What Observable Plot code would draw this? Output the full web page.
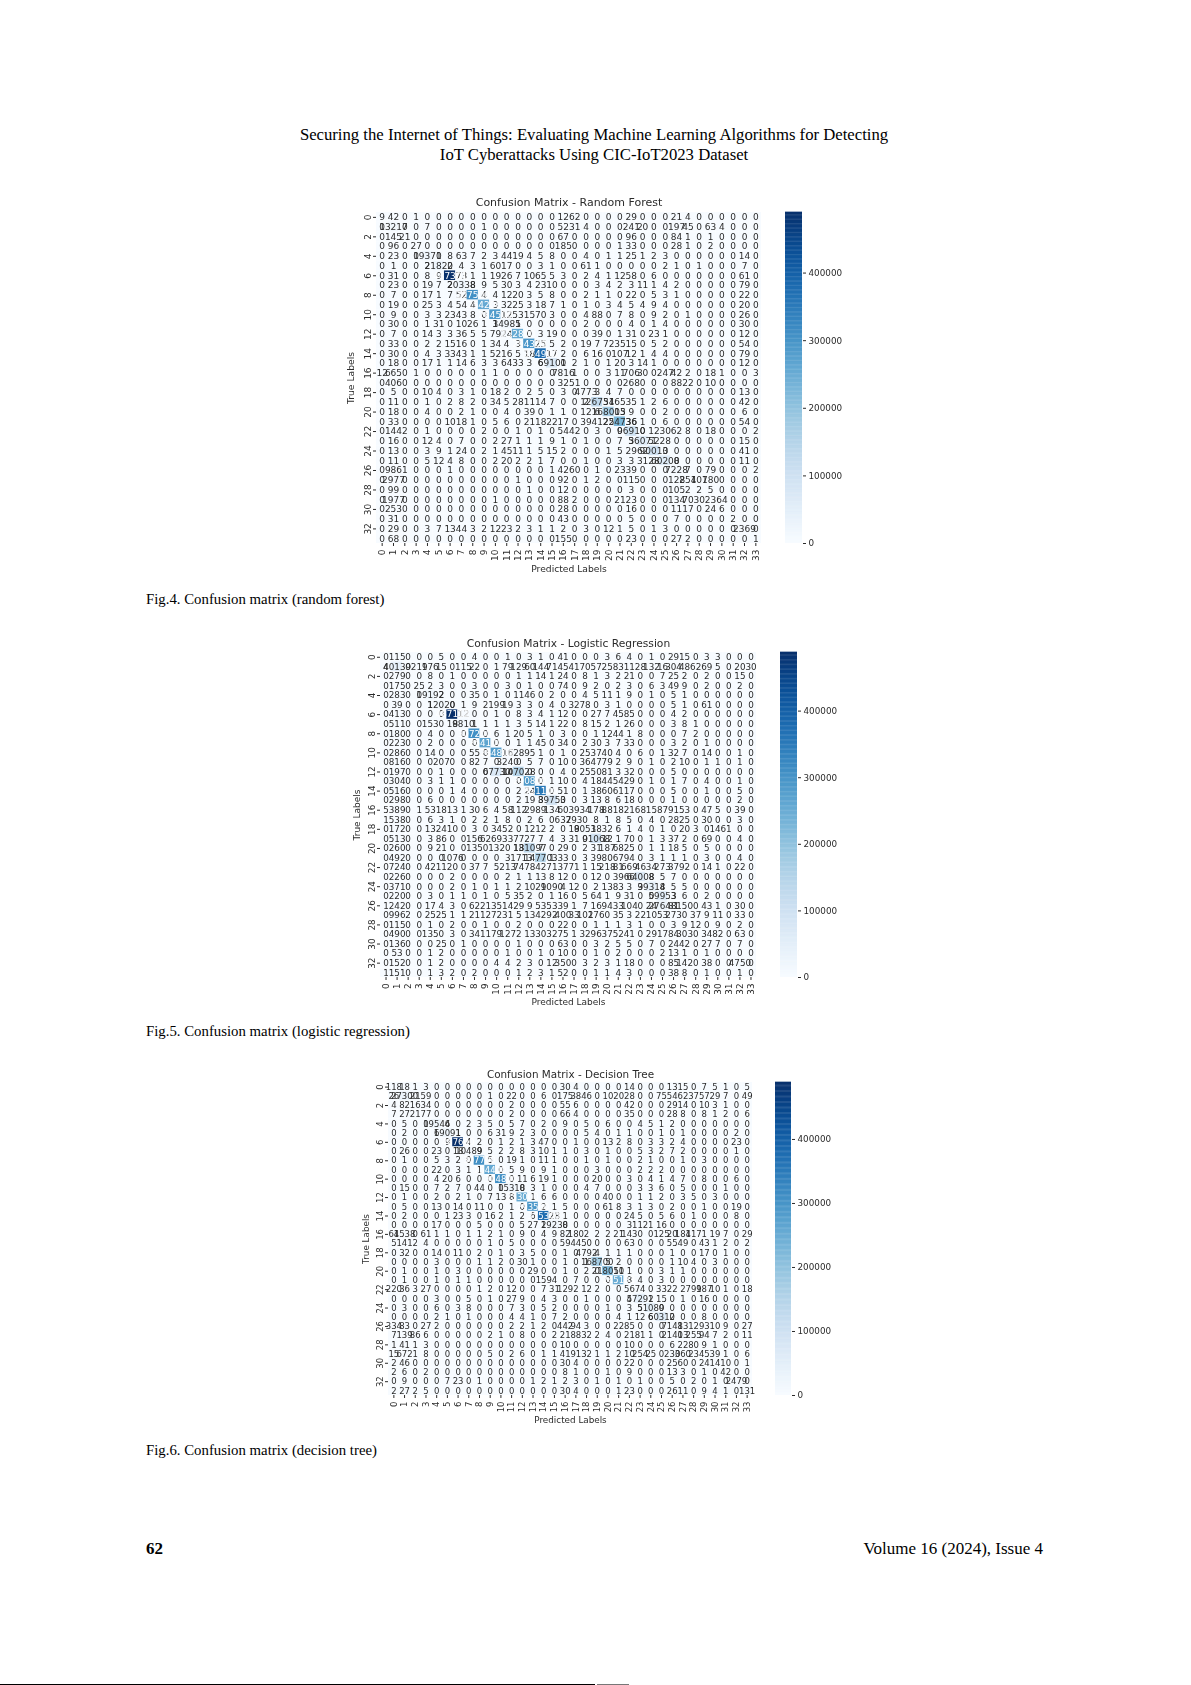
<!DOCTYPE html>
<html><head><meta charset="utf-8">
<script src="https://cdn.jsdelivr.net/npm/d3@7"></script>
<script src="https://cdn.jsdelivr.net/npm/@observablehq/plot@0.6"></script>
<style>
html,body{margin:0;padding:0;background:#fff}
#page{position:relative;width:1191px;height:1685px;overflow:hidden;font-family:"Liberation Serif",serif;color:#000}
.t{position:absolute;white-space:nowrap}
.fig{position:absolute}
.fig svg{display:block;overflow:visible;filter:blur(0.6px)}
</style></head><body><div id="page"></div>
<script>
const classLabels = d3.range(34);
const colorbarTicks = [0,100000,200000,300000,400000];

const randomForest = [
[9,42,0,1,0,0,0,0,0,0,0,0,0,0,0,0,12,62,0,0,0,0,29,0,0,0,21,4,0,0,0,0,0,0],
[0,13217,0,0,7,0,0,0,0,1,0,0,0,0,0,0,52,31,4,0,0,0,241,20,0,0,197,45,0,63,4,0,0,0],
[0,145,21,0,0,0,0,0,0,0,0,0,0,0,0,0,67,0,0,0,0,0,96,0,0,0,84,1,0,1,0,0,0,0],
[0,96,0,27,0,0,0,0,0,0,0,0,0,0,0,0,185,0,0,0,0,1,33,0,0,0,28,1,0,2,0,0,0,0],
[0,23,0,0,19370,1,8,63,7,2,3,44,19,4,5,8,0,0,4,0,1,1,25,1,2,3,0,0,0,0,0,0,14,0],
[0,1,0,0,2,21820,2,4,3,1,60,17,0,0,3,1,0,0,61,1,0,0,0,0,0,2,1,0,1,0,0,0,7,0],
[0,31,0,0,8,9,487301,73,1,1,19,26,7,10,65,5,3,0,2,4,1,12,58,0,6,0,0,0,0,0,0,0,61,0],
[0,23,0,0,19,7,2,20338,8,9,5,30,3,4,23,10,0,0,0,3,4,2,3,11,1,4,2,0,0,0,0,0,79,0],
[0,7,0,0,17,1,7,52,307500,4,4,12,20,3,5,8,0,0,2,1,1,0,22,0,5,3,1,0,0,0,0,0,22,0],
[0,19,0,0,25,3,4,54,4,254200,3,32,25,3,18,7,1,0,1,0,3,4,5,4,9,4,0,0,0,0,0,0,20,0],
[0,9,0,0,3,3,23,43,8,0,284500,12,53,15,70,3,0,0,4,88,0,7,8,0,9,2,0,1,0,0,0,0,26,0],
[0,30,0,0,1,31,0,10,26,1,3,14985,1,0,0,0,0,0,2,0,0,0,4,0,1,4,0,0,0,0,0,0,30,0],
[0,7,0,0,14,3,3,36,5,5,79,24,252800,0,3,19,0,0,0,39,0,1,31,0,23,1,0,0,0,0,0,0,12,0],
[0,33,0,0,2,2,15,16,0,1,34,4,3,294300,25,5,2,0,19,7,72,35,15,0,5,2,0,0,0,0,0,0,54,0],
[0,30,0,0,4,3,33,43,1,1,52,16,5,18,374900,17,2,0,6,16,0,107,12,1,4,4,0,0,0,0,0,0,79,0],
[0,18,0,0,17,1,1,14,6,3,3,64,33,3,6,69101,0,2,1,0,1,20,3,14,1,0,0,0,0,0,0,0,12,0],
[12,665,0,1,0,0,0,0,0,1,1,0,0,0,0,0,7816,1,0,0,3,11,706,30,0,247,42,2,0,18,1,0,0,3],
[0,406,0,0,0,0,0,0,0,0,0,0,0,0,0,0,32,51,0,0,0,0,268,0,0,0,88,22,0,10,0,0,0,0],
[0,5,0,0,10,4,0,3,1,0,18,2,0,2,5,0,3,0,4773,3,4,7,0,0,0,0,0,0,0,0,0,0,13,0],
[0,11,0,0,1,0,2,8,2,0,34,5,28,11,14,7,0,0,2,126751,34,65,35,1,2,6,0,0,0,0,0,0,42,0],
[0,18,0,0,4,0,0,2,1,0,0,4,0,39,0,1,1,0,12,6,168003,15,9,0,0,2,0,0,0,0,0,0,6,0],
[0,33,0,0,0,0,10,18,1,0,5,6,0,21,18,22,17,0,39,41,25,224736,36,1,0,6,0,0,0,0,0,0,54,0],
[0,144,2,0,1,0,0,0,0,2,0,0,1,0,1,0,54,42,0,3,0,0,96910,0,12,30,62,8,0,18,0,0,0,2],
[0,16,0,0,12,4,0,7,0,0,2,27,1,1,1,9,1,0,1,0,0,7,3,56071,52,28,0,0,0,0,0,0,15,0],
[0,13,0,0,3,9,1,24,0,2,1,45,11,1,5,15,2,0,0,0,1,5,29,62,90013,0,0,0,0,0,0,0,41,0],
[0,11,0,0,5,12,4,8,0,0,2,20,2,2,1,7,0,0,1,0,0,3,3,31,28,60208,0,0,0,0,0,0,11,0],
[0,986,1,0,0,0,1,0,0,0,0,0,0,0,0,1,42,60,0,1,0,23,39,0,0,0,7228,7,0,79,0,0,0,2],
[0,2977,0,0,0,0,0,0,0,0,0,0,1,0,0,0,92,0,1,2,0,0,115,0,0,0,128,254,107,180,0,0,0,0],
[0,99,0,0,0,0,0,0,0,0,0,0,0,1,0,0,12,0,0,0,0,0,3,0,0,0,105,2,2,5,0,0,0,0],
[0,1977,0,0,0,0,0,0,0,0,1,0,0,0,0,0,88,2,0,0,0,21,23,0,0,0,134,70,30,23,64,0,0,0],
[0,253,0,0,0,0,0,0,0,0,0,0,0,0,0,0,28,0,0,0,0,0,16,0,0,0,11,17,0,24,6,0,0,0],
[0,31,0,0,0,0,0,0,0,0,0,0,0,0,0,0,43,0,0,0,0,0,5,0,0,0,7,0,0,0,0,2,0,0],
[0,29,0,0,3,7,13,44,3,2,12,23,2,3,1,1,2,0,3,0,12,1,5,0,1,3,0,0,0,0,0,0,2369,0],
[0,68,0,0,0,0,0,0,0,0,0,0,0,0,0,0,155,0,0,0,0,0,23,0,0,0,27,2,0,0,0,0,0,1]
];

const logisticRegression = [
[0,115,0,0,0,5,0,0,4,0,0,1,0,3,1,0,41,0,0,0,3,6,4,0,1,0,29,15,0,3,3,0,0,0],
[4,40139,0,219,176,15,0,115,22,0,1,79,129,60,144,71,45,41,70,57,25,83,11,28,132,16,304,48,62,69,5,0,20,30],
[0,279,0,0,8,0,1,0,0,0,0,0,1,1,14,1,24,0,8,1,3,2,21,0,0,7,25,2,0,2,0,0,15,0],
[0,175,0,25,2,3,0,0,3,0,0,3,0,1,0,0,74,0,9,2,0,2,3,0,6,3,49,9,0,2,0,0,2,0],
[0,283,0,0,19192,2,0,0,35,0,1,0,11,46,0,2,0,0,4,5,11,1,9,0,1,0,5,1,0,0,0,0,0,0],
[0,39,0,0,1,12020,0,1,9,2,199,19,3,3,0,4,0,32,78,0,3,1,0,0,0,0,5,1,0,61,0,0,0,0],
[0,413,0,0,0,0,487112,12,0,0,1,0,8,3,4,1,12,0,0,27,7,45,85,0,0,0,4,2,0,0,0,0,0,0],
[0,511,0,0,153,0,18,9810,1,1,1,1,3,5,14,1,22,0,8,15,2,1,26,0,0,0,3,8,1,0,0,0,0,0],
[0,180,0,0,4,0,0,0,307200,0,6,1,20,5,1,0,3,0,0,1,12,44,1,8,0,0,0,7,2,0,0,0,0,0],
[0,223,0,0,2,0,0,0,0,264100,0,0,1,1,45,0,34,0,2,30,3,7,33,0,0,0,3,2,0,1,0,0,0,0],
[0,286,0,0,14,0,0,0,55,0,284800,16,28,95,1,0,1,0,25,37,40,4,0,6,0,1,32,7,0,14,0,0,1,0],
[0,816,0,0,0,207,0,0,82,7,0,3240,0,5,7,0,10,0,36,47,79,2,9,0,1,0,2,10,0,1,1,0,1,0],
[0,197,0,0,0,1,0,0,0,0,67730,10,147028,0,0,0,4,0,25,50,81,3,32,0,0,0,5,0,0,0,0,0,0,0],
[0,304,0,0,3,1,1,0,0,0,0,0,0,290800,0,1,10,0,4,18,44,54,29,0,1,0,1,7,0,4,0,0,1,0],
[0,516,0,0,0,0,1,4,0,0,0,0,2,24,351100,0,51,0,1,38,60,61,17,0,0,0,5,0,0,1,0,0,5,0],
[0,298,0,0,6,0,0,0,0,0,0,0,2,19,3,89753,0,0,3,13,8,6,18,0,0,0,1,0,0,0,0,0,2,0],
[5,389,0,1,53,18,13,1,30,6,4,58,112,29,89,134,60,39,34,178,88,18,21,68,15,87,91,53,0,47,5,0,39,0],
[1,538,0,0,6,3,1,0,2,2,1,8,0,2,6,0,637,293,0,8,1,8,5,0,4,0,28,25,0,30,0,0,3,0],
[0,172,0,0,13,24,10,0,3,0,34,52,0,12,12,2,0,18,9051,38,32,6,1,4,0,1,0,20,3,0,146,1,0,0],
[0,513,0,0,3,86,0,0,156,62,69,33,77,27,7,4,3,31,0,91068,12,1,70,0,1,3,37,2,0,69,0,0,4,0],
[0,260,0,0,9,21,0,0,135,0,132,0,18,131097,7,0,29,0,2,31,187,68,25,0,1,1,18,5,0,5,0,0,0,0],
[0,492,0,0,0,0,1076,0,0,0,0,3,171,3,147703,1,33,0,3,39,80,67,94,0,3,1,1,1,0,3,0,0,4,0],
[0,724,0,0,42,11,20,0,37,7,5,213,74,78,42,71,37,71,1,15,218,81,669,46,34,273,37,92,0,14,1,0,22,0],
[0,226,0,0,0,0,2,0,0,0,0,2,1,1,13,8,12,0,0,12,0,39,66,64008,8,5,7,0,0,0,0,0,0,0],
[0,371,0,0,0,0,2,0,1,0,1,1,2,10,29,1090,4,12,0,2,13,83,3,9,39318,4,5,5,0,0,0,0,0,0],
[0,220,0,0,3,0,1,1,0,1,0,5,35,2,0,1,16,0,5,64,1,9,31,0,0,59953,3,6,0,2,0,0,0,0],
[1,242,0,0,17,4,3,0,62,21,35,14,29,9,53,53,39,1,7,16,94,33,104,0,24,27648,81,150,0,43,1,0,30,0],
[0,996,2,0,25,25,1,1,21,12,72,31,5,13,42,92,400,33,101,276,0,35,3,22,10,53,273,0,37,9,11,0,33,0],
[0,115,0,0,1,0,2,0,0,1,0,0,2,0,0,0,22,0,0,1,1,1,3,1,0,0,3,9,12,0,9,0,2,0],
[0,490,0,0,135,0,3,0,34,11,79,127,2,13,30,32,75,1,32,96,37,52,41,0,29,17,84,303,0,34,82,0,63,0],
[0,136,0,0,0,25,0,1,0,0,0,0,1,0,0,0,63,0,0,3,2,5,5,0,7,0,24,42,0,27,7,0,7,0],
[0,53,0,0,1,2,0,0,0,0,0,1,0,0,1,0,10,0,0,1,0,2,0,0,0,2,13,1,0,1,0,0,0,0],
[0,152,0,0,1,2,0,0,0,0,4,4,2,3,0,12,350,0,3,2,3,1,18,0,0,0,85,142,0,38,0,0,4750,0],
[1,151,0,0,1,3,2,0,2,0,0,0,1,2,3,1,52,0,0,1,1,4,3,0,0,0,38,8,0,1,0,0,1,0]
];

const decisionTree = [
[118,18,1,3,0,0,0,0,0,0,0,0,0,0,0,0,30,4,0,0,0,0,14,0,0,0,13,15,0,7,5,1,0,5],
[26,27300,21,59,0,0,0,0,0,1,0,22,0,0,6,0,175,38,46,0,10,20,28,0,0,75,54,62,37,57,29,7,0,49],
[4,82,16,34,0,0,0,0,0,0,0,2,0,0,0,0,55,6,0,0,0,0,42,0,0,0,29,14,0,10,3,1,0,0],
[7,27,21,77,0,0,0,0,0,0,0,2,0,0,0,0,66,4,0,0,0,0,35,0,0,0,28,8,0,8,1,2,0,6],
[0,5,0,0,19544,6,0,2,3,5,0,5,7,0,2,0,9,0,5,0,6,0,0,4,5,1,2,0,0,0,0,0,0,0],
[0,2,0,0,6,19091,1,0,0,6,31,9,2,3,0,0,0,0,5,4,0,1,1,0,0,1,0,1,0,0,0,0,2,0],
[0,0,0,0,0,9,487600,4,2,0,1,2,1,3,47,0,0,1,0,0,13,2,8,0,3,3,2,4,0,0,0,0,23,0],
[0,26,0,0,23,0,18,10489,9,5,2,2,8,3,10,1,1,0,3,0,1,0,0,5,3,2,7,2,0,0,0,0,1,0],
[0,1,0,0,5,3,2,0,307700,5,0,19,1,0,11,1,0,0,1,0,1,0,0,2,1,0,0,1,0,3,0,0,0,0],
[0,0,0,0,22,0,3,1,1,254400,0,5,9,0,9,1,0,0,0,3,0,0,0,2,2,2,0,0,0,0,0,0,0,0],
[0,0,0,0,4,20,6,0,0,0,304800,0,11,6,19,1,0,0,0,20,0,0,3,0,4,1,4,7,0,8,0,0,6,0],
[0,15,0,0,7,2,7,0,44,0,0,15318,0,3,1,0,0,0,4,7,0,0,0,3,3,6,0,5,0,0,0,1,0,0],
[0,1,0,0,2,0,2,1,0,7,13,8,253000,1,6,6,0,0,0,0,40,0,0,1,1,2,0,3,5,0,3,0,0,0],
[0,5,0,0,13,0,14,0,11,0,0,1,0,293500,2,1,5,0,0,0,61,8,3,1,3,0,2,0,0,1,0,0,19,0],
[0,2,0,0,0,1,23,3,0,16,2,1,2,6,375300,28,1,0,0,0,0,0,24,5,0,5,6,0,1,0,0,0,8,0],
[0,0,0,0,17,0,0,0,5,0,0,0,5,27,2,19238,0,0,0,0,0,0,3,112,1,16,0,0,0,0,0,0,0,0],
[64,1538,0,61,1,1,0,1,1,2,1,0,9,0,4,9,82,180,2,2,2,21,143,0,0,125,20,184,117,1,19,7,0,29],
[5,141,2,4,0,0,0,0,0,1,0,5,0,0,0,0,59,44,50,0,0,0,63,0,0,0,55,49,0,43,1,2,0,2],
[0,32,0,0,14,0,11,0,2,0,1,0,3,5,0,0,1,0,4792,4,1,1,1,0,0,0,1,0,0,17,0,1,0,0],
[0,0,0,0,3,0,0,0,1,1,2,0,30,1,0,0,1,0,1,168700,5,2,0,0,0,0,1,10,4,0,3,0,0,0],
[0,1,0,0,1,0,3,0,0,0,0,0,0,29,0,0,1,0,2,0,218051,10,1,0,0,3,1,1,0,0,0,0,0,0],
[0,1,0,0,1,0,1,1,0,0,0,0,0,0,159,4,0,7,0,0,0,245103,8,4,0,3,0,0,0,0,0,0,0,0],
[220,36,3,27,0,0,0,0,1,2,0,12,0,0,7,31,129,2,12,2,0,0,56,74,0,33,22,2,799,187,10,1,0,18],
[0,0,0,0,3,0,0,5,0,1,0,27,9,0,4,3,0,0,1,0,0,0,5,47292,1,15,0,1,0,16,0,0,0,0],
[0,3,0,0,6,0,3,8,0,0,0,7,3,0,5,2,0,0,0,0,1,0,3,5,51089,0,0,0,0,0,0,0,0,0],
[0,0,0,0,2,1,0,1,0,0,0,4,4,1,0,7,2,0,0,0,0,4,1,12,6,60312,0,0,0,8,0,0,0,0],
[334,83,0,27,2,0,0,0,0,0,0,2,2,1,2,0,442,94,3,0,0,22,85,0,0,0,7148,13,12,93,10,9,0,27],
[7,139,86,6,0,0,0,0,0,2,1,0,8,0,0,2,21,88,32,2,4,0,21,81,1,0,2140,13,255,94,7,2,0,11],
[1,41,1,3,0,0,0,0,0,0,0,0,0,0,0,0,10,0,0,0,0,0,10,0,0,0,6,22,80,9,1,0,0,0],
[15,672,1,8,0,0,0,0,0,5,0,2,6,0,1,1,41,91,32,1,1,2,10,254,25,0,230,360,23,45,39,1,0,6],
[2,46,0,0,0,0,0,0,0,0,0,0,0,0,0,0,30,4,0,0,0,0,22,0,0,0,25,60,0,24,14,10,0,1],
[2,6,0,2,0,0,0,0,0,0,0,0,0,0,0,0,8,1,0,0,1,0,9,0,0,0,13,3,0,1,0,42,0,0],
[0,9,0,0,0,7,23,0,1,0,0,0,0,1,2,1,2,3,0,1,0,1,0,1,0,0,5,0,2,0,1,0,2479,0],
[2,27,2,5,0,0,0,0,0,0,0,0,0,0,0,0,30,4,0,0,0,1,23,0,0,0,26,11,0,9,4,1,0,131]
];

const page = document.getElementById("page");
const ink = "#2b2b2b";
const font = '"DejaVu Sans",sans-serif';

function pageText(txt, css){
  const d = document.createElement("div");
  d.className = "t"; d.textContent = txt; d.style.cssText += css; page.appendChild(d);
}

function place(node, left, top){
  const w = document.createElement("div");
  w.className = "fig"; w.style.left = left+"px"; w.style.top = top+"px";
  w.appendChild(node); page.appendChild(w);
}

function confusion(values, title, box){
  const cells = values.flatMap((row, r) => row.map((v, c) => ({r, c, v})));
  const maxV = d3.max(cells, d => d.v);
  const light = cells.filter(d => d.v < 240000);
  const dark = cells.filter(d => d.v >= 240000);
  const ml = 40, mr = 6, mt = 30, mb = 40;
  const textOpts = {x:"c", y:"r", text: d => String(d.v), fontSize: box.cellFont};
  const chart = Plot.plot({
    width: box.w + ml + mr, height: box.h + mt + mb,
    marginLeft: ml, marginRight: mr, marginTop: mt, marginBottom: mb,
    style: {fontFamily: font, background: "transparent", color: ink},
    x: {type:"band", domain: classLabels, padding:0, round:false},
    y: {type:"band", domain: classLabels, padding:0, round:false},
    color: {type:"linear", scheme:"blues", domain:[0, maxV]},
    marks: [
      Plot.cell(cells, {x:"c", y:"r", fill:"v", inset:0}),
      Plot.text(light, {...textOpts, fill: ink}),
      Plot.text(dark, {...textOpts, fill: "white"}),
      Plot.axisX(classLabels, {anchor:"bottom", label:null, tickRotate:-90, tickSize:3, tickPadding:3, fontSize:box.tickFont, stroke:ink, fill:ink}),
      Plot.axisY(classLabels.filter(d => d % 2 === 0), {anchor:"left", label:null, tickRotate:-90, tickSize:3, tickPadding:3, fontSize:box.tickFont, stroke:ink, fill:ink}),
      Plot.text([title], {frameAnchor:"top", lineAnchor:"middle", dy: box.titleDy, fontSize:box.titleFont, fill:ink}),
      Plot.text(["Predicted Labels"], {frameAnchor:"bottom", lineAnchor:"middle", dy: box.xLabelDy, fontSize:box.labelFont, fill:ink}),
      Plot.text(["True Labels"], {frameAnchor:"left", textAnchor:"middle", dx: box.yLabelDx, rotate:-90, fontSize:box.labelFont, fill:ink})
    ]
  });
  place(chart, box.x - ml, box.y - mt);

  const steps = d3.range(0, box.barMax, box.barMax/256);
  const bar = Plot.plot({
    width: box.barW + 60, height: box.h + 20,
    marginLeft: 0, marginRight: 60, marginTop: 10, marginBottom: 10,
    style: {fontFamily: font, background: "transparent", color: ink},
    x: {axis:null, domain:[0,1]},
    y: {domain:[0, box.barMax], axis:null},
    color: {type:"linear", scheme:"blues", domain:[0, box.barMax]},
    marks: [
      Plot.rect(steps, {x1:0, x2:1, y1: d => d, y2: d => d + box.barMax/200, fill: d => d}),
      Plot.axisY(colorbarTicks, {anchor:"right", label:null, tickSize:3, tickPadding:3, fontSize:8.8, tickFormat: d => String(d), stroke:ink, fill:ink})
    ]
  });
  place(bar, box.barX, box.y - 10);
}

const serifTitle = "left:0;width:1188px;text-align:center;font-size:16.7px;";
pageText("Securing the Internet of Things: Evaluating Machine Learning Algorithms for Detecting", serifTitle+"top:125px;");
pageText("IoT Cyberattacks Using CIC-IoT2023 Dataset", serifTitle+"top:145px;");

confusion(randomForest, "Confusion Matrix - Random Forest",
  {x:376, y:212, w:385, h:331, barX:785, barW:17, barMax:489600, titleDy:-10, xLabelDy:26, yLabelDx:-25.5,
   cellFont:9, tickFont:9, titleFont:11, labelFont:9.2});
confusion(logisticRegression, "Confusion Matrix - Logistic Regression",
  {x:380, y:652, w:376, h:325, barX:780, barW:17, barMax:488000, titleDy:-9, xLabelDy:25, yLabelDx:-23.5,
   cellFont:8.8, tickFont:8.8, titleFont:10.7, labelFont:9});
confusion(decisionTree, "Confusion Matrix - Decision Tree",
  {x:388, y:1082, w:364, h:313, barX:775, barW:16, barMax:489000, titleDy:-8, xLabelDy:25, yLabelDx:-22,
   cellFont:8.5, tickFont:8.5, titleFont:10.4, labelFont:8.8});

const cap = "left:146px;font-size:14.8px;";
pageText("Fig.4. Confusion matrix (random forest)", cap+"top:591px;");
pageText("Fig.5. Confusion matrix (logistic regression)", cap+"top:1023px;");
pageText("Fig.6. Confusion matrix (decision tree)", cap+"top:1442px;");
pageText("62", "left:146px;top:1539px;font-size:17px;font-weight:bold;");
pageText("Volume 16 (2024), Issue 4", "right:148px;top:1539px;font-size:17px;");

const rule = document.createElement("div");
rule.style.cssText = "position:absolute;left:0;top:1684px;width:595px;height:1px;background:#000";
page.appendChild(rule);
const rule2 = document.createElement("div");
rule2.style.cssText = "position:absolute;left:597px;top:1684px;width:32px;height:1px;background:#777";
page.appendChild(rule2);
</script></body></html>
